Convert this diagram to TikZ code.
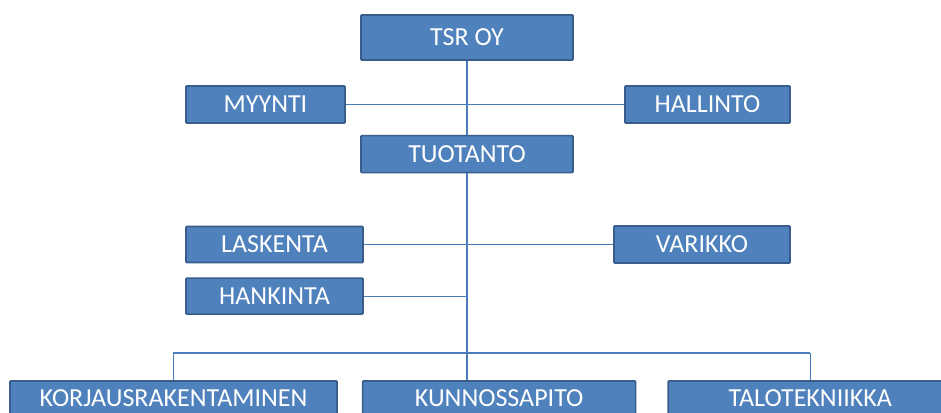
\documentclass[tikz,border=0pt]{standalone}
\usepackage{fontspec}
\setmainfont{Carlito}
\usetikzlibrary{positioning}
\definecolor{boxfill}{HTML}{4F81BD}
\definecolor{boxline}{HTML}{385D8A}
\definecolor{wire}{HTML}{4A7EBB}

\begin{document}
\begin{tikzpicture}[
    x=1pt, y=1pt,
    node distance=14pt and 24pt,
    unit/.style={draw=boxline, line width=1.6pt, fill=boxfill, text=white,
        font=\fontsize{26}{30}\selectfont, minimum height=37pt,
        inner sep=0pt, rounded corners=0.8pt},
    every edge/.style={draw=wire, line width=1.1pt},
]
\useasboundingbox (0,0) rectangle (941,-412);
\node[unit, minimum width=212pt, minimum height=45pt] (tsr) at (467,-37.5) {TSR OY};
\node[unit, minimum width=212pt, below=74pt of tsr] (tuotanto) {TUOTANTO};
\node[unit, minimum width=159pt] (myynti) at (265.5,-104.5) {MYYNTI};
\node[unit, minimum width=165pt] (hallinto) at (707.5,-104.5) {HALLINTO};
\node[unit, minimum width=177pt, minimum height=36pt] (laskenta) at (274.5,-244.5) {LASKENTA};
\node[unit, minimum width=177pt, minimum height=36pt, below=of laskenta] (hankinta) {HANKINTA};
\node[unit, minimum width=176pt] (varikko) at (702,-244.5) {VARIKKO};
\node[unit, minimum width=327pt, minimum height=34pt] (korjaus) at (173.5,-398) {KORJAUSRAKENTAMINEN};
\node[unit, minimum width=273pt, minimum height=34pt, right=of korjaus] (kunnossapito) {KUNNOSSAPITO};
\node[unit, minimum width=284pt, minimum height=34pt, right=31pt of kunnossapito] (talo) {TALOTEKNIIKKA};
\coordinate (bus) at (tsr.south |- 0,-353);
\draw (tsr) edge (tuotanto);
\draw (myynti) edge (hallinto);
\draw (laskenta) edge (varikko);
\draw (hankinta) edge (hankinta -| tsr.south);
\draw (tuotanto) edge (bus);
\draw (bus) edge (tsr.south |- kunnossapito.north);
\draw (korjaus.north) edge[to path={|- (\tikztotarget)}] (talo.north |- bus);
\draw (talo.north |- bus) edge (talo.north);
\end{tikzpicture}
\end{document}
